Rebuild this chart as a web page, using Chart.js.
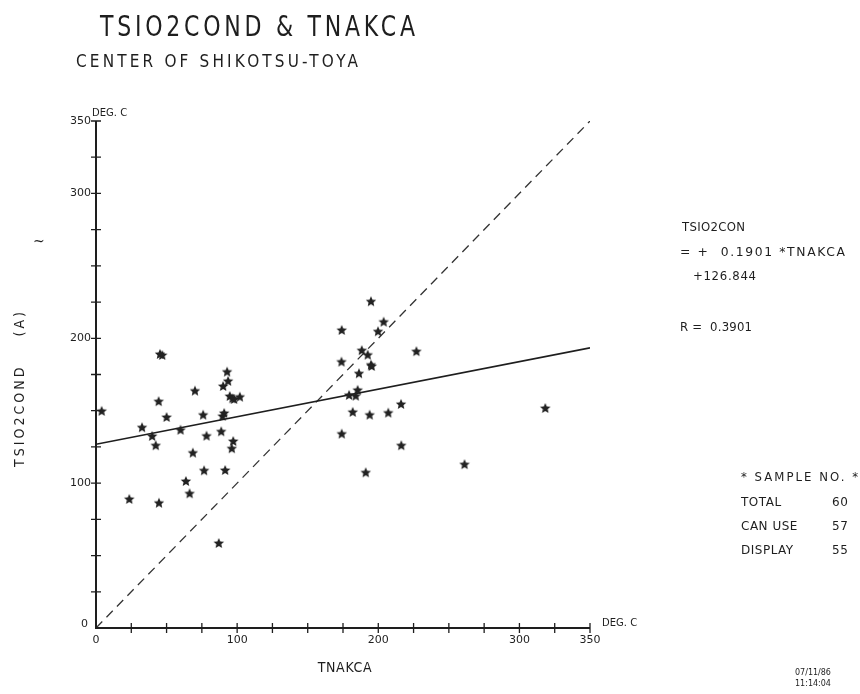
<!DOCTYPE html>
<html>
<head>
<meta charset="utf-8">
<title>TSIO2COND & TNAKCA</title>
<script src="https://cdn.jsdelivr.net/npm/chart.js@4.4.1/dist/chart.umd.min.js"></script>
<style>
  html, body { margin: 0; padding: 0; background: #fff; }
  canvas { display: block; }
</style>
</head>
<body>
<canvas id="scatter" width="860" height="694"></canvas>
<script>
// TNAKCA (x) and TSIO2COND (y) in deg C, one entry per displayed sample
const tnakca = [
  4.0, 45.3, 46.9, 32.6, 39.8, 42.3, 44.4, 50.0, 23.6, 44.6,
  59.9, 70.1, 68.6, 63.7, 66.3, 75.9, 78.3, 76.6, 88.7, 89.7,
  90.8, 90.1, 93.6, 92.9, 94.8, 96.7, 97.9, 101.9, 97.2, 96.2,
  91.5, 87.0, 194.8, 174.1, 203.8, 199.8, 188.3, 192.5, 227.0, 173.9,
  194.8, 195.3, 186.3, 185.4, 179.3, 184.0, 216.1, 181.9, 193.9, 207.1,
  174.1, 216.3, 191.1, 318.3, 261.1
];
const tsio2cond = [
  149.9, 189.2, 188.5, 138.6, 132.6, 126.2, 156.6, 145.7, 89.1, 86.5,
  136.9, 163.9, 121.1, 101.5, 93.0, 147.3, 132.8, 108.9, 135.8, 146.4,
  148.5, 167.1, 170.6, 177.0, 160.2, 158.6, 158.1, 159.7, 129.1, 124.1,
  109.1, 58.7, 225.6, 205.8, 211.5, 204.9, 191.8, 188.7, 191.1, 183.9,
  181.8, 180.9, 175.9, 164.4, 160.9, 160.4, 154.7, 149.2, 147.3, 148.7,
  134.2, 126.2, 107.5, 151.9, 113.1
];

// regression result printed beside the plot
const slope = 0.1901;
const intercept = 126.844;
const corrR = 0.3901;
const sampleCounts = [['TOTAL', 60], ['CAN USE', 57], ['DISPLAY', 55]];

const axisMin = 0;
const axisMax = 350;
const minorStep = 25;
const xTickLabels = [0, 100, 200, 300, 350];
const yTickLabels = [0, 100, 200, 300, 350];

const INK = '#1e1e1e';
const FONT = '"DejaVu Sans", "Liberation Sans", sans-serif';

// filled five-point star used as the point marker
function makeStar(size, color) {
  const c = document.createElement('canvas');
  c.width = size; c.height = size;
  const g = c.getContext('2d');
  const cx = size / 2, cy = size / 2 + 0.5;
  const ro = size / 2 - 0.5, ri = ro * 0.47;
  g.beginPath();
  for (let i = 0; i < 10; i++) {
    const r = i % 2 === 0 ? ro : ri;
    const a = -Math.PI / 2 + i * Math.PI / 5;
    const px = cx + r * Math.cos(a), py = cy + r * Math.sin(a);
    if (i === 0) g.moveTo(px, py); else g.lineTo(px, py);
  }
  g.closePath();
  g.fillStyle = color;
  g.fill();
  return c;
}

// plotter-style lettering: narrowed glyphs spread over a given width
function spaced(ctx, text, x, y, width, font, hs) {
  hs = hs || 1;
  ctx.save();
  ctx.translate(x, y);
  ctx.scale(hs, 1);
  ctx.font = font;
  ctx.letterSpacing = '0px';
  const w = ctx.measureText(text).width;
  const sp = text.length > 1 ? (width / hs - w) / (text.length - 1) : 0;
  ctx.letterSpacing = sp + 'px';
  ctx.fillText(text, 0, 0);
  ctx.restore();
}

const points = tnakca.map((x, i) => ({ x: x, y: tsio2cond[i] }));
const fitLine = [
  { x: axisMin, y: intercept + slope * axisMin },
  { x: axisMax, y: intercept + slope * axisMax }
];
const equalLine = [{ x: axisMin, y: axisMin }, { x: axisMax, y: axisMax }];

// axes with ticks crossing the line, plus all the printed text
const plotterFrame = {
  id: 'plotterFrame',
  afterDatasetsDraw(chart) {
    const ctx = chart.ctx;
    const xs = chart.scales.x, ys = chart.scales.y;
    const x0 = xs.getPixelForValue(axisMin), x1 = xs.getPixelForValue(axisMax);
    const y0 = ys.getPixelForValue(axisMin), y1 = ys.getPixelForValue(axisMax);
    ctx.save();
    ctx.strokeStyle = INK;
    ctx.fillStyle = INK;
    ctx.lineWidth = 2;
    ctx.beginPath();
    ctx.moveTo(x0, y1); ctx.lineTo(x0, y0); ctx.lineTo(x1, y0);
    ctx.stroke();
    ctx.lineWidth = 1.3;
    ctx.beginPath();
    for (let v = axisMin + minorStep; v <= axisMax; v += minorStep) {
      const px = xs.getPixelForValue(v);
      ctx.moveTo(px, y0 - 5); ctx.lineTo(px, y0 + 5);
      const py = ys.getPixelForValue(v);
      ctx.moveTo(x0 - 5, py); ctx.lineTo(x0 + 5, py);
    }
    ctx.stroke();

    ctx.font = '11px ' + FONT;
    ctx.textBaseline = 'middle';
    ctx.textAlign = 'right';
    yTickLabels.forEach(v => {
      ctx.fillText(String(v), x0 - (v === 0 ? 8 : 5), ys.getPixelForValue(v) - (v === 0 ? 4 : 0));
    });
    ctx.textAlign = 'center';
    ctx.textBaseline = 'top';
    xTickLabels.forEach(v => {
      ctx.fillText(String(v), xs.getPixelForValue(v), y0 + 7);
    });
    ctx.textAlign = 'left';
    ctx.textBaseline = 'alphabetic';
    ctx.font = '10px ' + FONT;
    ctx.fillText('DEG. C', x0 - 4, y1 - 5);
    ctx.fillText('DEG. C', x1 + 12, y0 - 2);

    // titles
    spaced(ctx, 'TSIO2COND & TNAKCA', 100, 36, 315, '29px ' + FONT, 0.76);
    spaced(ctx, 'CENTER OF SHIKOTSU-TOYA', 76, 67, 282, '18px ' + FONT, 0.85);
    ctx.textAlign = 'center';
    spaced(ctx, 'TNAKCA', 345, 672, 54, '14px ' + FONT, 0.9);
    ctx.save();
    ctx.translate(24, 388);
    ctx.rotate(-Math.PI / 2);
    ctx.textAlign = 'center';
    spaced(ctx, 'TSIO2COND    (A)', 0, 0, 155, '14px ' + FONT, 0.9);
    ctx.restore();
    ctx.textAlign = 'left';
    ctx.font = '14px ' + FONT;
    ctx.fillText('~', 33, 246);

    // regression summary
    const small = '13px ' + FONT;
    spaced(ctx, 'TSIO2CON', 682, 231, 63, small, 0.9);
    spaced(ctx, '= +  ' + slope.toFixed(4) + ' *TNAKCA', 680, 256, 165, small, 0.95);
    spaced(ctx, '+' + intercept.toFixed(3), 693, 280, 63, small, 0.9);
    spaced(ctx, 'R =  ' + corrR.toFixed(4), 680, 331, 72, small, 0.9);

    // sample counts
    spaced(ctx, '* SAMPLE NO. *', 741, 481, 117, small, 0.9);
    sampleCounts.forEach((row, i) => {
      const y = 506 + i * 24;
      ctx.font = '12px ' + FONT;
      ctx.letterSpacing = '0.5px';
      ctx.fillText(row[0], 741, y);
      ctx.fillText(String(row[1]), 832, y);
      ctx.letterSpacing = '0px';
    });

    ctx.font = '8px ' + FONT;
    ctx.fillText('07/11/86', 795, 675);
    ctx.fillText('11:14:04', 795, 686);
    ctx.restore();
  }
};

new Chart(document.getElementById('scatter'), {
  type: 'scatter',
  data: {
    datasets: [
      {
        label: 'samples',
        data: points,
        pointStyle: makeStar(12, '#222'),
        pointRadius: 6,
        order: 0
      },
      {
        type: 'line',
        label: 'fit',
        data: fitLine,
        borderColor: INK,
        borderWidth: 1.6,
        pointRadius: 0,
        order: 1
      },
      {
        type: 'line',
        label: 'x = y',
        data: equalLine,
        borderColor: '#333',
        borderWidth: 1.3,
        borderDash: [9, 6],
        pointRadius: 0,
        order: 2
      }
    ]
  },
  options: {
    responsive: false,
    animation: false,
    layout: { padding: { left: 96, right: 270, top: 121, bottom: 66 } },
    scales: {
      x: { type: 'linear', min: axisMin, max: axisMax, display: false },
      y: { type: 'linear', min: axisMin, max: axisMax, display: false }
    },
    plugins: {
      legend: { display: false },
      tooltip: { enabled: false }
    }
  },
  plugins: [plotterFrame]
});
</script>
</body>
</html>
